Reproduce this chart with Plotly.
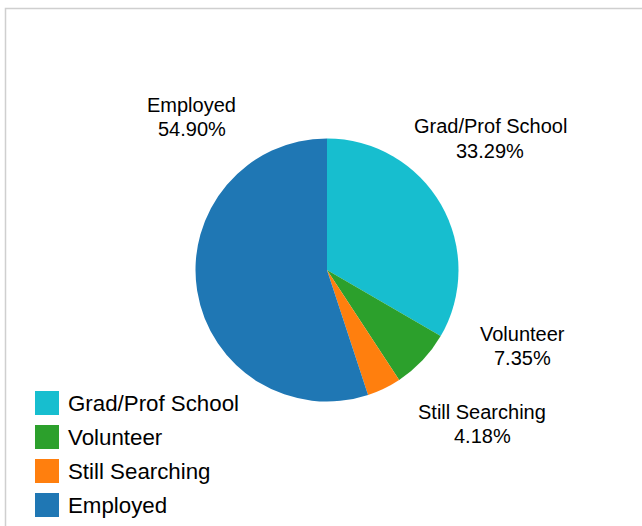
import plotly.graph_objects as go

W, H = 642, 526

categories = ["Grad/Prof School", "Volunteer", "Still Searching", "Employed"]
values = [33.29, 7.35, 4.18, 54.90]
colors = ["#17becf", "#2ca02c", "#ff7f0e", "#1f77b4"]

# label placement (pixels): center x, name-line y, percent-line y
label_pos = [(490, 126.5, 150.5), (522, 334, 358), (482, 412, 436), (192, 104.5, 128.5)]

FONT = "Liberation Sans, Arial, sans-serif"

def px(x):
    return x / W

def py(y):
    return 1 - y / H

cx, cy, r = 327, 270, 131.5

fig = go.Figure(go.Pie(
    labels=categories,
    values=values,
    marker=dict(colors=colors, line=dict(width=0)),
    sort=False,
    direction="clockwise",
    rotation=0,
    textinfo="none",
    hoverinfo="label+percent",
    showlegend=False,
    domain=dict(x=[px(cx - r), px(cx + r)], y=[py(cy + r), py(cy - r)]),
))

annotations = []
for cat, val, (lx, ny, py_) in zip(categories, values, label_pos):
    annotations.append(dict(x=px(lx), y=py(ny), xref="paper", yref="paper",
                            text=cat, showarrow=False, xanchor="center", yanchor="middle",
                            font=dict(family=FONT, size=20, color="#000")))
    annotations.append(dict(x=px(lx), y=py(py_), xref="paper", yref="paper",
                            text=f"{val:.2f}%", showarrow=False, xanchor="center", yanchor="middle",
                            font=dict(family=FONT, size=20, color="#000")))

shapes = [dict(type="rect", xref="paper", yref="paper",
               x0=px(5.5), x1=px(W + 10), y0=py(8.5), y1=py(H + 10),
               line=dict(color="#cfcfcf", width=1.5), fillcolor="rgba(0,0,0,0)")]

# manual legend
for i, (cat, col) in enumerate(zip(categories, colors)):
    top = 391 + 34 * i
    shapes.append(dict(type="rect", xref="paper", yref="paper",
                       x0=px(35), x1=px(59), y0=py(top + 24), y1=py(top),
                       line=dict(width=0), fillcolor=col))
    annotations.append(dict(x=px(65.5), y=py(top + 12.5), xref="paper", yref="paper",
                            text=cat, showarrow=False, xanchor="left", yanchor="middle",
                            font=dict(family=FONT, size=22.3, color="#000")))

fig.update_layout(
    width=W, height=H,
    margin=dict(l=0, r=0, t=0, b=0),
    paper_bgcolor="white",
    plot_bgcolor="white",
    annotations=annotations,
    shapes=shapes,
    showlegend=False,
)

fig.write_html("out.html", config={"displayModeBar": False},
               post_script="document.body.style.margin='0';document.body.style.overflow='hidden';")
